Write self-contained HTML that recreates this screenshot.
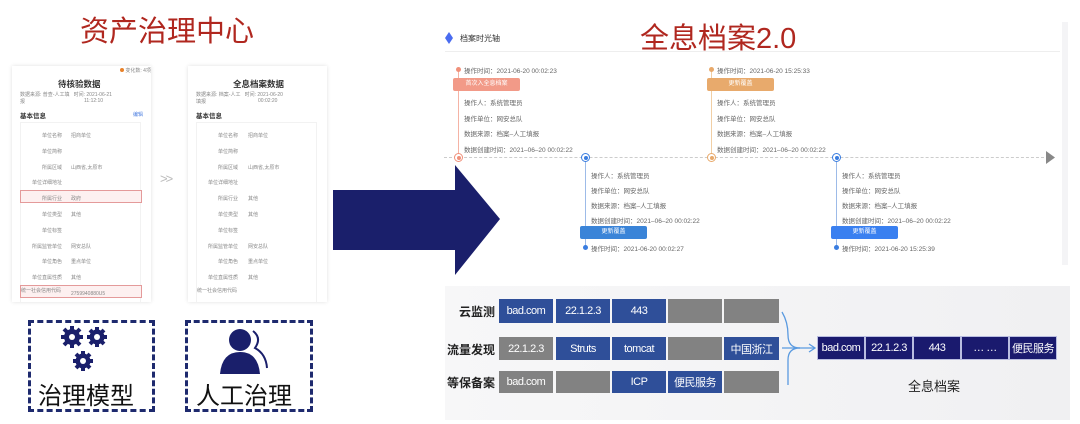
<!DOCTYPE html>
<html><head><meta charset="utf-8"><style>
*{margin:0;padding:0;box-sizing:border-box}
body{width:1080px;height:424px;background:#fff;position:relative;overflow:hidden;font-family:"Liberation Sans","Noto Sans CJK SC",sans-serif}
.a{position:absolute;white-space:nowrap}
.t{font-size:6.5px;color:#666}
.card{position:absolute;background:#fff;box-shadow:0 0 4px rgba(0,0,0,.12)}
.row{position:absolute;font-size:5px;color:#888;white-space:nowrap}
.cell{position:absolute;color:#fff;font-size:11px;text-align:center;letter-spacing:-0.5px;display:flex;align-items:center;justify-content:center;white-space:nowrap}
.b{background:#2f4f99}.g{background:#828282}.n{background:#1a1a6e;border:1px solid #b9bde0}
.lab{position:absolute;font-size:12px;color:#222;font-weight:bold;text-align:right;width:52px;white-space:nowrap}
</style></head><body>

<div class="a" style="left:80px;top:8px;font-size:29px;color:#b0271f">资产治理中心</div>
<div class="a" style="left:640px;top:15px;font-size:29px;color:#b0271f">全息档案2.0</div>

<!-- cards -->
<div class="card" style="left:12px;top:66px;width:139px;height:236px"></div>
<div class="card" style="left:188px;top:66px;width:139px;height:236px"></div>
<div class="a" style="left:120px;top:67px;font-size:5px;color:#888"><span style="display:inline-block;width:4px;height:4px;border-radius:50%;background:#e8822a"></span> 变化数: 4项</div>
<div class="a" style="left:58px;top:78px;font-size:8.5px;color:#333;font-weight:bold">待核验数据</div>
<div class="a" style="left:233px;top:78px;font-size:8.5px;color:#333;font-weight:bold">全息档案数据</div>
<div class="row" style="left:20px;top:91px">数据来源: 普查-人工填 &nbsp; 时间: 2021-06-21</div>
<div class="row" style="left:20px;top:98px">报</div><div class="row" style="left:84px;top:98px">11:12:10</div>
<div class="row" style="left:196px;top:91px">数据来源: 档案-人工 &nbsp; 时间: 2021-06-20</div>
<div class="row" style="left:196px;top:98px">填报</div><div class="row" style="left:258px;top:98px">00:02:20</div>
<div class="a" style="left:20px;top:110px;font-size:6.5px;color:#333;font-weight:bold">基本信息</div>
<div class="a" style="left:133px;top:111px;font-size:5px;color:#4a7de0">编辑</div>
<div class="a" style="left:196px;top:110px;font-size:6.5px;color:#333;font-weight:bold">基本信息</div>
<div class="a" style="left:20px;top:122px;width:121px;height:180px;border:1px solid #f2f2f2;border-bottom:none"></div>
<div class="a" style="left:196px;top:122px;width:121px;height:180px;border:1px solid #f2f2f2;border-bottom:none"></div>
<div class="a" style="left:20px;top:190px;width:122px;height:13px;border:1px solid #e49a9a;background:#fdf0f0"></div>
<div class="a" style="left:20px;top:285px;width:122px;height:13px;border:1px solid #e49a9a;background:#fdf0f0"></div>
<div class="row" style="left:22px;top:129px;line-height:15.8px;text-align:right;width:40px">
单位名称<br>单位简称<br>所属区域<br>单位详细地址<br>所属行业<br>单位类型<br>单位标签<br>所属监管单位<br>单位角色<br>单位直属性质</div>
<div class="row" style="left:71px;top:129px;line-height:15.8px">招商单位<br>&nbsp;<br>山西省,太原市<br>&nbsp;<br>政府<br>其他<br>&nbsp;<br>网安总队<br>重点单位<br>其他<br>2759940880U5</div>
<div class="row" style="left:21px;top:287px">统一社会信用代码</div>
<div class="row" style="left:198px;top:129px;line-height:15.8px;text-align:right;width:40px">
单位名称<br>单位简称<br>所属区域<br>单位详细地址<br>所属行业<br>单位类型<br>单位标签<br>所属监管单位<br>单位角色<br>单位直属性质</div>
<div class="row" style="left:248px;top:129px;line-height:15.8px">招商单位<br>&nbsp;<br>山西省,太原市<br>&nbsp;<br>其他<br>其他<br>&nbsp;<br>网安总队<br>重点单位<br>其他</div>
<div class="row" style="left:197px;top:287px">统一社会信用代码</div>
<div class="a" style="left:160px;top:171px;font-size:13px;color:#bbb;letter-spacing:-2px">&gt;&gt;</div>

<!-- big arrow -->
<svg class="a" style="left:330px;top:160px" width="190" height="122"><polygon points="3,30 125,30 125,5 170,59 125,115 125,90 3,90" fill="#1a1f6b"/></svg>

<!-- dashed boxes -->
<div class="a" style="left:28px;top:320px;width:127px;height:92px;border:3px dashed #1e2a6e"></div>
<div class="a" style="left:185px;top:320px;width:128px;height:92px;border:3px dashed #1e2a6e"></div>
<svg class="a" style="left:55px;top:325px" width="65" height="50" fill="#1a1f6b">
<g transform="translate(17,12)"><circle r="8"/><g stroke="#1a1f6b" stroke-width="4"><line x1="-11" y1="0" x2="11" y2="0"/><line x1="0" y1="-11" x2="0" y2="11"/><line x1="-8" y1="-8" x2="8" y2="8"/><line x1="-8" y1="8" x2="8" y2="-8"/></g><circle r="3" fill="#fff"/></g>
<g transform="translate(42,12)"><circle r="7.5"/><g stroke="#1a1f6b" stroke-width="4"><line x1="-10" y1="0" x2="10" y2="0"/><line x1="0" y1="-10" x2="0" y2="10"/><line x1="-7" y1="-7" x2="7" y2="7"/><line x1="-7" y1="7" x2="7" y2="-7"/></g><circle r="3" fill="#fff"/></g>
<g transform="translate(28,36)"><circle r="7.5"/><g stroke="#1a1f6b" stroke-width="4"><line x1="-10" y1="0" x2="10" y2="0"/><line x1="0" y1="-10" x2="0" y2="10"/><line x1="-7" y1="-7" x2="7" y2="7"/><line x1="-7" y1="7" x2="7" y2="-7"/></g><circle r="3" fill="#fff"/></g>
</svg>
<svg class="a" style="left:218px;top:328px" width="55" height="48"><circle cx="22" cy="12" r="11" fill="#1a1f6b"/><path d="M2 46 Q4 24 22 24 Q40 24 42 46 Z" fill="#1a1f6b"/><path d="M35 3 Q44 10 37 20 Q48 26 49 40" stroke="#1a1f6b" stroke-width="2" fill="none"/></svg>
<div class="a" style="left:38px;top:376px;font-size:24px;color:#111">治理模型</div>
<div class="a" style="left:196px;top:376px;font-size:24px;color:#111">人工治理</div>

<!-- timeline panel -->
<div class="a" style="left:1062px;top:22px;width:6px;height:243px;background:#f4f4f6"></div>
<svg class="a" style="left:445px;top:32px" width="8" height="12"><polygon points="4,0 8,6 4,12 0,6" fill="#4a6cf0"/></svg>
<div class="a" style="left:460px;top:33px;font-size:8px;color:#333">档案时光轴</div>
<div class="a" style="left:445px;top:51px;width:615px;height:1px;background:#eee"></div>
<div class="a" style="left:444px;top:157px;width:605px;border-top:1px dashed #ccc"></div>
<svg class="a" style="left:1046px;top:151px" width="10" height="13"><polygon points="0,0 9,6.5 0,13" fill="#888"/></svg>

<!-- event 1 -->
<div class="a" style="left:458px;top:69px;width:1px;height:88px;background:#f5b3a5"></div>
<div class="a" style="left:456px;top:67px;width:5px;height:5px;border-radius:50%;background:#f0907a"></div>
<div class="a" style="left:454px;top:153px;width:9px;height:9px;border-radius:50%;border:1px solid #f0907a;background:#fff"><div style="margin:1.5px;width:4px;height:4px;border-radius:50%;background:#f0907a"></div></div>
<div class="a t" style="left:464px;top:65px">操作时间：2021-06-20 00:02:23</div>
<div class="a" style="left:453px;top:78px;width:67px;height:13px;background:#f29a88;border-radius:2px;color:#fff;font-size:6px;text-align:center;line-height:13px">首次入全息档案</div>
<div class="a t" style="left:464px;top:96px;line-height:15.6px">操作人：系统管理员<br>操作单位：网安总队<br>数据来源：档案–人工填报<br>数据创建时间：2021–06–20 00:02:22</div>

<!-- event 3 -->
<div class="a" style="left:711px;top:69px;width:1px;height:88px;background:#f1cfa5"></div>
<div class="a" style="left:709px;top:67px;width:5px;height:5px;border-radius:50%;background:#e8a96a"></div>
<div class="a" style="left:707px;top:153px;width:9px;height:9px;border-radius:50%;border:1px solid #e8a96a;background:#fff"><div style="margin:1.5px;width:4px;height:4px;border-radius:50%;background:#e8a96a"></div></div>
<div class="a t" style="left:717px;top:65px">操作时间：2021-06-20 15:25:33</div>
<div class="a" style="left:707px;top:78px;width:67px;height:13px;background:#e8aa6c;border-radius:2px;color:#fff;font-size:6px;text-align:center;line-height:13px">更新覆盖</div>
<div class="a t" style="left:717px;top:96px;line-height:15.6px">操作人：系统管理员<br>操作单位：网安总队<br>数据来源：档案–人工填报<br>数据创建时间：2021–06–20 00:02:22</div>

<!-- event 2 -->
<div class="a" style="left:585px;top:157px;width:1px;height:90px;background:#9dbbe8"></div>
<div class="a" style="left:581px;top:153px;width:9px;height:9px;border-radius:50%;border:1px solid #3a7de0;background:#fff"><div style="margin:1.5px;width:4px;height:4px;border-radius:50%;background:#3a7de0"></div></div>
<div class="a" style="left:583px;top:245px;width:5px;height:5px;border-radius:50%;background:#3a7de0"></div>
<div class="a t" style="left:591px;top:169px;line-height:15px">操作人：系统管理员<br>操作单位：网安总队<br>数据来源：档案–人工填报<br>数据创建时间：2021–06–20 00:02:22</div>
<div class="a" style="left:580px;top:226px;width:67px;height:13px;background:#3a84d8;border-radius:2px;color:#fff;font-size:6px;text-align:center;line-height:13px">更新覆盖</div>
<div class="a t" style="left:591px;top:243px">操作时间：2021-06-20 00:02:27</div>

<!-- event 4 -->
<div class="a" style="left:836px;top:157px;width:1px;height:90px;background:#9dbbe8"></div>
<div class="a" style="left:832px;top:153px;width:9px;height:9px;border-radius:50%;border:1px solid #3a7de0;background:#fff"><div style="margin:1.5px;width:4px;height:4px;border-radius:50%;background:#3a7de0"></div></div>
<div class="a" style="left:834px;top:245px;width:5px;height:5px;border-radius:50%;background:#3a7de0"></div>
<div class="a t" style="left:842px;top:169px;line-height:15px">操作人：系统管理员<br>操作单位：网安总队<br>数据来源：档案–人工填报<br>数据创建时间：2021–06–20 00:02:22</div>
<div class="a" style="left:831px;top:226px;width:67px;height:13px;background:#3a80f0;border-radius:2px;color:#fff;font-size:6px;text-align:center;line-height:13px">更新覆盖</div>
<div class="a t" style="left:842px;top:243px">操作时间：2021-06-20 15:25:39</div>

<!-- bottom panel -->
<div class="a" style="left:445px;top:286px;width:625px;height:134px;background:linear-gradient(90deg,#f7f7f8,#f0f0f2)"></div>
<div class="lab" style="left:443px;top:303px">云监测</div>
<div class="lab" style="left:443px;top:341px">流量发现</div>
<div class="lab" style="left:443px;top:374px">等保备案</div>

<div class="cell b" style="left:499px;top:299px;width:54px;height:24px">bad.com</div>
<div class="cell b" style="left:556px;top:299px;width:54px;height:24px">22.1.2.3</div>
<div class="cell b" style="left:612px;top:299px;width:54px;height:24px">443</div>
<div class="cell g" style="left:668px;top:299px;width:54px;height:24px"></div>
<div class="cell g" style="left:724px;top:299px;width:55px;height:24px"></div>

<div class="cell g" style="left:499px;top:337px;width:54px;height:23px">22.1.2.3</div>
<div class="cell b" style="left:556px;top:337px;width:54px;height:23px">Struts</div>
<div class="cell b" style="left:612px;top:337px;width:54px;height:23px">tomcat</div>
<div class="cell g" style="left:668px;top:337px;width:54px;height:23px"></div>
<div class="cell b" style="left:724px;top:337px;width:55px;height:23px">中国浙江</div>

<div class="cell g" style="left:499px;top:371px;width:54px;height:22px">bad.com</div>
<div class="cell g" style="left:556px;top:371px;width:54px;height:22px"></div>
<div class="cell b" style="left:612px;top:371px;width:54px;height:22px">ICP</div>
<div class="cell b" style="left:668px;top:371px;width:54px;height:22px">便民服务</div>
<div class="cell g" style="left:724px;top:371px;width:55px;height:22px"></div>

<svg class="a" style="left:780px;top:310px" width="40" height="80" fill="none" stroke="#5a9ae0" stroke-width="1.3">
<path d="M2 2 Q8 12 8 25 Q8 38 20 38"/><path d="M8 75 Q8 50 8 50 Q8 38 20 38"/><path d="M2 38 L34 38"/><path d="M29 34 L35 38 L29 42"/></svg>

<div class="cell n" style="left:817px;top:336px;width:48px;height:24px">bad.com</div>
<div class="cell n" style="left:865px;top:336px;width:48px;height:24px">22.1.2.3</div>
<div class="cell n" style="left:913px;top:336px;width:48px;height:24px">443</div>
<div class="cell n" style="left:961px;top:336px;width:48px;height:24px">… …</div>
<div class="cell n" style="left:1009px;top:336px;width:48px;height:24px">便民服务</div>
<div class="a" style="left:908px;top:376px;font-size:13px;color:#222">全息档案</div>
</body></html>
